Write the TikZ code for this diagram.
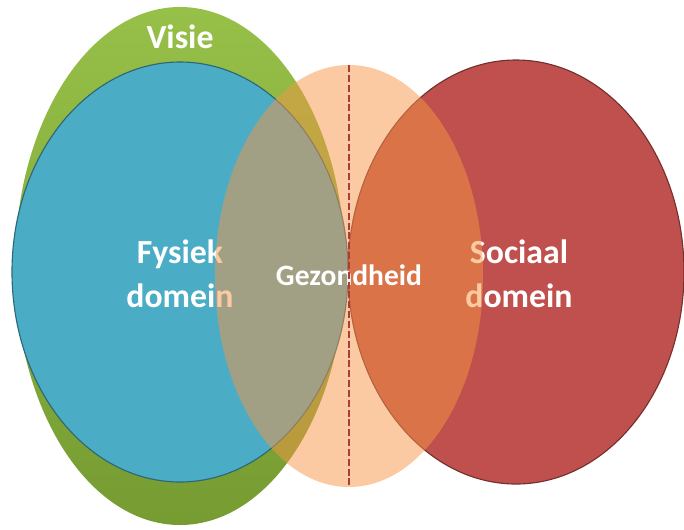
\documentclass[tikz,border=0pt]{standalone}
\usepackage{fontspec}
\setmainfont{Carlito}
\definecolor{visiegreen}{RGB}{150,192,72}
\definecolor{visiedark}{RGB}{118,156,50}
\definecolor{fysblue}{RGB}{75,172,198}
\definecolor{socred}{RGB}{192,80,77}
\definecolor{gezorange}{RGB}{247,150,70}
\definecolor{dashred}{RGB}{170,60,60}
\tikzset{
  lbl/.style={text=white, font=\bfseries\fontsize{24}{31}\selectfont, align=center},
}
\begin{document}
\begin{tikzpicture}[x=0.025cm, y=-0.025cm]
  \useasboundingbox (0,0) rectangle (684,529);

  % visie
  \shade[top color=visiegreen, bottom color=visiedark] (180,266) ellipse (165 and 259);
  \node[lbl] (visie) at (180,37) {Visie};

  % domeinen
  \filldraw[fill=fysblue, draw=fysblue!60!black, line width=0.8pt] (180,272) ellipse (168 and 210);
  \filldraw[fill=socred, draw=socred!60!black, line width=0.8pt] (516,272) ellipse (168 and 212);
  \node[lbl] (fysiek) at (180,274) {Fysiek\\domein};
  \node[lbl] (sociaal) at (519,274) {Sociaal\\domein};

  % gezondheid
  \fill[gezorange, opacity=0.5] (349,276) ellipse (134 and 211);
  \node[lbl, font=\bfseries\fontsize{21}{24}\selectfont] (gezond) at (349,275) {Gezondheid};

  \coordinate (top) at (349,65);
  \coordinate (bottom) at (349,487);
  \draw[dashred, line width=2pt, dash pattern=on 5pt off 2pt] (top) -- (bottom);
\end{tikzpicture}
\end{document}
